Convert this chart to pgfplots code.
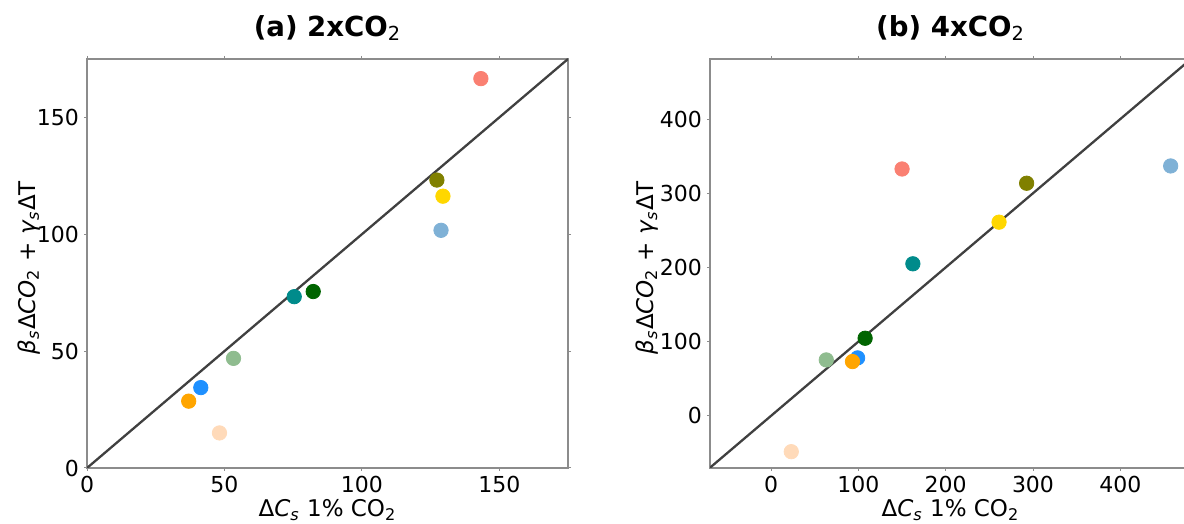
\documentclass[border=0pt]{standalone}
\usepackage{fontspec}
\setmainfont{DejaVu Sans}
\usepackage{pgfplots}
\pgfplotsset{compat=1.18}
\definecolor{csalmon}{HTML}{FA8072}
\definecolor{colive}{HTML}{808000}
\definecolor{cgold}{HTML}{FFD700}
\definecolor{clblue}{HTML}{7FB1D6}
\definecolor{cteal}{HTML}{008B8B}
\definecolor{cdgreen}{HTML}{006400}
\definecolor{cdsgreen}{HTML}{8FBC8F}
\definecolor{cdodger}{HTML}{1E90FF}
\definecolor{corange}{HTML}{FFA500}
\definecolor{cpeach}{HTML}{FFDAB9}
\definecolor{spine}{HTML}{8C8C8C}
\definecolor{oneline}{HTML}{404040}
\pgfplotsset{
  myax/.style={
    scale only axis,
    anchor=south west,
    width=240.5pt, height=204.5pt,
    axis line style={draw=spine, line width=0.55pt},
    tick style={draw=spine, line width=0.5pt},
    major tick length=1.5pt,
    tick align=outside,
    xtick pos=both, ytick pos=both,
    /pgf/number format/assume math mode=true,
    tick label style={font=\fontsize{11}{13}\selectfont, text=black},
    xticklabel style={yshift=1pt},
    yticklabel style={xshift=1pt},
    label style={font=\fontsize{11.5}{14}\selectfont},
    title style={font=\fontsize{13.8}{16}\selectfont\bfseries, at={(axis description cs:0.5,1.046)}, anchor=center},
    xlabel style={at={(axis description cs:0.5,-0.103)}, anchor=center},
    clip mode=individual,
    every axis plot/.append style={only marks, mark=*, mark size=3.6pt},
  }
}
\begin{document}
\begin{tikzpicture}
\begin{axis}[myax, at={(43.5pt,28pt)},
  xmin=0, xmax=175, ymin=0, ymax=175,
  xtick={0,50,100,150}, ytick={0,50,100,150},
  title={(a) 2xCO\textsubscript{\normalfont 2}},
  xlabel={Δ\textit{C}\textsubscript{\textit{s}} 1\% CO\textsubscript{2}},
  ylabel={\textit{β}\textsubscript{\textit{s}}Δ\textit{CO}\textsubscript{2} + \textit{γ}\textsubscript{\textit{s}}ΔT},
  ylabel style={at={(axis description cs:-0.121,0.49)}, anchor=center},
]
\addplot[no marks, sharp plot, draw=oneline, line width=1.15pt] coordinates {(0,0) (175,175)};
\addplot[draw=csalmon, fill=csalmon] coordinates {(143.3,166.6)};
\addplot[draw=colive, fill=colive] coordinates {(127.3,123.2)};
\addplot[draw=cgold, fill=cgold] coordinates {(129.5,116.3)};
\addplot[draw=clblue, fill=clblue] coordinates {(128.8,101.7)};
\addplot[draw=cteal, fill=cteal] coordinates {(75.4,73.3)};
\addplot[draw=cdgreen, fill=cdgreen] coordinates {(82.3,75.5)};
\addplot[draw=cdsgreen, fill=cdsgreen] coordinates {(53.3,46.9)};
\addplot[draw=cdodger, fill=cdodger] coordinates {(41.4,34.4)};
\addplot[draw=corange, fill=corange] coordinates {(37.0,28.6)};
\addplot[draw=cpeach, fill=cpeach] coordinates {(48.2,15.0)};
\end{axis}
\begin{axis}[myax, at={(355pt,28pt)},
  xmin=-70, xmax=481, ymin=-70.4, ymax=481,
  xtick={0,100,200,300,400}, ytick={0,100,200,300,400},
  title={(b) 4xCO\textsubscript{\normalfont 2}},
  xlabel={Δ\textit{C}\textsubscript{\textit{s}} 1\% CO\textsubscript{2}},
  ylabel={\textit{β}\textsubscript{\textit{s}}Δ\textit{CO}\textsubscript{2} + \textit{γ}\textsubscript{\textit{s}}ΔT},
  ylabel style={at={(axis description cs:-0.131,0.49)}, anchor=center},
]
\addplot[no marks, sharp plot, draw=oneline, line width=1.15pt] coordinates {(-70.4,-70.4) (481,481)};
\addplot[draw=csalmon, fill=csalmon] coordinates {(150.0,332.7)};
\addplot[draw=colive, fill=colive] coordinates {(292.7,313.5)};
\addplot[draw=cgold, fill=cgold] coordinates {(261.1,261.0)};
\addplot[draw=clblue, fill=clblue] coordinates {(457.7,336.8)};
\addplot[draw=cteal, fill=cteal] coordinates {(162.4,204.9)};
\addplot[draw=cdgreen, fill=cdgreen] coordinates {(107.7,104.5)};
\addplot[draw=cdsgreen, fill=cdsgreen] coordinates {(63.2,75.3)};
\addplot[draw=cdodger, fill=cdodger] coordinates {(99.1,78.0)};
\addplot[draw=corange, fill=corange] coordinates {(93.2,73.1)};
\addplot[draw=cpeach, fill=cpeach] coordinates {(23.1,-48.4)};
\end{axis}
\pgfresetboundingbox
\path[use as bounding box] (0,0) rectangle (592pt,262pt);
\end{tikzpicture}
\end{document}
